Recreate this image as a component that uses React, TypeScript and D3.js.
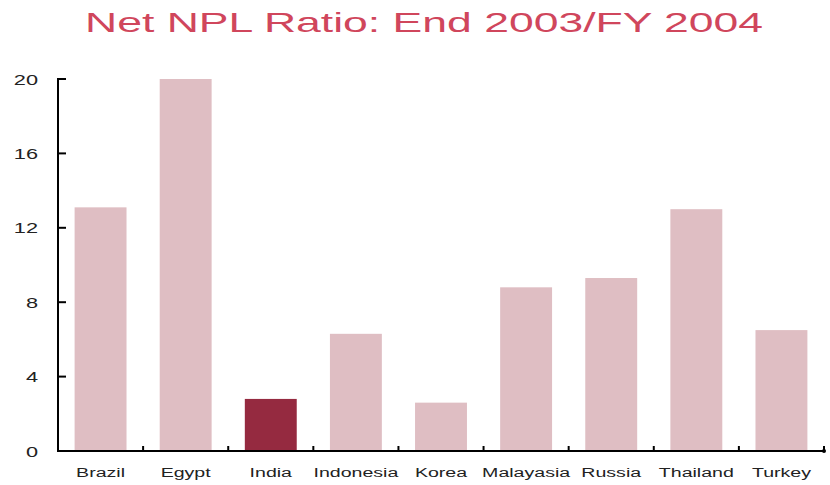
import { useEffect, useRef } from "react";
import * as d3 from "d3";

const countries = ["Brazil", "Egypt", "India", "Indonesia", "Korea", "Malayasia", "Russia", "Thailand", "Turkey"];
const nplRatio = [13.1, 20.0, 2.8, 6.3, 2.6, 8.8, 9.3, 13.0, 6.5];
const highlight = "India";
const yTicks = [0, 4, 8, 12, 16, 20];

export default function App() {
  const ref = useRef<SVGSVGElement>(null);
  const width = 830;
  const height = 485;

  useEffect(() => {
    if (!ref.current) return;
    const svg = d3.select(ref.current);
    svg.selectAll("*").remove();

    const left = 58, right = 824, top = 79, bottom = 451;
    const font = "'Liberation Sans', Arial, sans-serif";
    const stretch = 1.45; // the original picture is squashed wide

    const x = d3.scaleBand<string>().domain(countries).range([left, right]).paddingInner(0.39).paddingOuter(0.195);
    const xb = d3.scaleBand<string>().domain(countries).range([left, right]);
    const y = d3.scaleLinear().domain([0, 20]).range([bottom, top]);

    svg.append("rect").attr("width", width).attr("height", height).attr("fill", "#fff");

    svg.append("text")
      .attr("x", 85).attr("y", 32)
      .attr("font-family", font).attr("font-size", 27.5)
      .attr("textLength", 678).attr("lengthAdjust", "spacingAndGlyphs")
      .attr("fill", "#d0465c")
      .text("Net NPL Ratio: End 2003/FY 2004");

    // bars
    svg.selectAll("rect.bar")
      .data(countries)
      .join("rect")
      .attr("class", "bar")
      .attr("x", (d) => x(d)!)
      .attr("width", x.bandwidth())
      .attr("y", (_, i) => y(nplRatio[i]))
      .attr("height", (_, i) => y(0) - y(nplRatio[i]))
      .attr("fill", (d) => (d === highlight ? "#952a40" : "#dfbec3"));

    // y axis
    svg.append("line")
      .attr("x1", left).attr("x2", left).attr("y1", top - 1).attr("y2", bottom + 1)
      .attr("stroke", "#000").attr("stroke-width", 2);
    yTicks.forEach((t) => {
      svg.append("line")
        .attr("x1", left).attr("x2", left + 8).attr("y1", y(t)).attr("y2", y(t))
        .attr("stroke", "#000").attr("stroke-width", 2);
      svg.append("text")
        .attr("transform", `translate(38,${y(t) + 5.5}) scale(${stretch},1)`)
        .attr("text-anchor", "end")
        .attr("font-family", font).attr("font-size", 15)
        .attr("fill", "#222")
        .text(t);
    });

    // x axis
    svg.append("line")
      .attr("x1", left - 1).attr("x2", right).attr("y1", bottom).attr("y2", bottom)
      .attr("stroke", "#000").attr("stroke-width", 2);
    countries.forEach((c) => {
      const bx = xb(c)! + xb.bandwidth();
      svg.append("line")
        .attr("x1", bx).attr("x2", bx).attr("y1", bottom).attr("y2", bottom - 5)
        .attr("stroke", "#000").attr("stroke-width", 2);
      svg.append("text")
        .attr("transform", `translate(${x(c)! + x.bandwidth() / 2},477) scale(${stretch},1)`)
        .attr("text-anchor", "middle")
        .attr("font-family", font).attr("font-size", 13.5)
        .attr("fill", "#222")
        .text(c);
    });
    svg.append("circle").attr("cx", right).attr("cy", bottom).attr("r", 2).attr("fill", "#000");
  }, []);

  return <svg ref={ref} width={width} height={height} style={{ position: "absolute", left: 0, top: 0 }} />;
}
